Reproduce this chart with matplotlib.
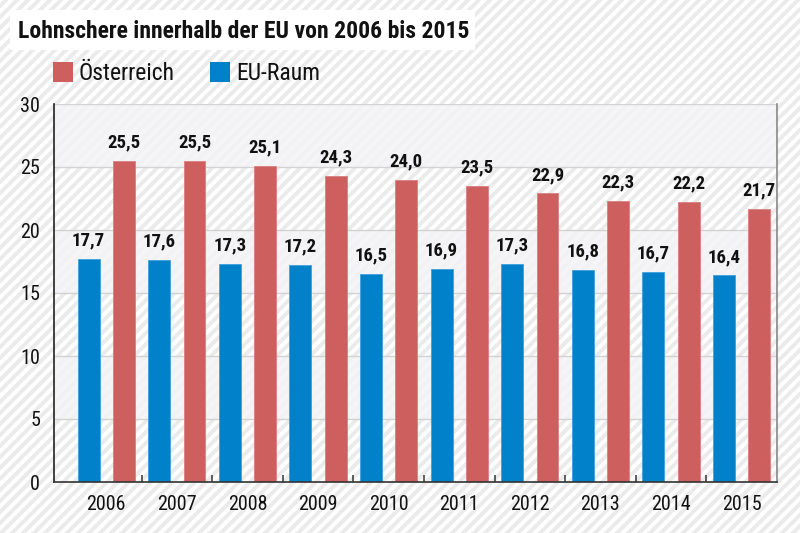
import numpy as np
import matplotlib
matplotlib.use("Agg")
import matplotlib.pyplot as plt
from matplotlib import font_manager
from matplotlib.patches import Rectangle
from matplotlib.lines import Line2D
from matplotlib.transforms import IdentityTransform

years = ["2006", "2007", "2008", "2009", "2010", "2011", "2012", "2013", "2014", "2015"]
oesterreich = [25.5, 25.5, 25.1, 24.3, 24.0, 23.5, 22.9, 22.3, 22.2, 21.7]
eu_raum = [17.7, 17.6, 17.3, 17.2, 16.5, 16.9, 17.3, 16.8, 16.7, 16.4]
yticks = [0, 5, 10, 15, 20, 25, 30]
title = "Lohnschere innerhalb der EU von 2006 bis 2015"
names = ["Österreich", "EU-Raum"]

red = "#cd5f5f"
blue = "#0081c9"

installed = {f.name for f in font_manager.fontManager.ttflist}
font = "Roboto"
for cand in ["Roboto Condensed", "Liberation Sans Narrow", "Roboto"]:
    if cand in installed:
        font = cand
        break
plt.rcParams["font.family"] = [font, "DejaVu Sans"]

fig = plt.figure(figsize=(8, 5.33), dpi=100)
fig.patch.set_facecolor("white")

# diagonal stripes in the background (pixel coords)
for k in range(-560, 820, 11):
    fig.add_artist(Line2D([k, k + 560], [0, 560], transform=IdentityTransform(),
                          color="#ebebeb", lw=2.8, zorder=-10))

# title box
fig.patches.append(Rectangle((10 / 800, 1 - 50 / 533), 465 / 800, 40 / 533,
                             transform=fig.transFigure, facecolor="white",
                             edgecolor="none", zorder=1))
fig.text(18 / 800, 1 - 31 / 533, title, fontsize=17, fontweight="bold",
         va="center", ha="left", color="#111111", zorder=2)

# legend drawn by hand
for i, (name, col) in enumerate(zip(names, [red, blue])):
    x0 = [53, 210][i]
    fig.patches.append(Rectangle((x0 / 800, 1 - 82 / 533), 20 / 800, 20 / 533,
                                 transform=fig.transFigure, facecolor=col,
                                 edgecolor="none"))
    fig.text((x0 + 26) / 800, 1 - 73 / 533, name, fontsize=17,
             va="center", ha="left", color="#111111")

ax = fig.add_axes([54 / 800, 1 - 482 / 533, 723 / 800, 378 / 533])
ax.set_facecolor("none")

# alternating bands
for lo in [5, 15, 25]:
    ax.axhspan(lo, lo + 5, color="#f4f4f6", alpha=0.85, lw=0, zorder=0)
for y in yticks[1:]:
    ax.axhline(y, color="#d2d2d2", lw=1, zorder=0.5)

x = np.arange(len(years))
w = 0.31
b1 = ax.bar(x - 0.25, eu_raum, w, color=blue, edgecolor="#3fa0db", lw=0.6, zorder=2)
b2 = ax.bar(x + 0.25, oesterreich, w, color=red, edgecolor="#d98080", lw=0.6, zorder=2)

for bars, vals in [(b1, eu_raum), (b2, oesterreich)]:
    for r, v in zip(bars, vals):
        ax.text(r.get_x() + r.get_width() / 2, v + 0.75, f"{v:.1f}".replace(".", ","),
                ha="center", va="bottom", fontsize=13.5, fontweight="bold",
                color="#111111")

ax.set_xlim(-0.74, 9.5)
ax.set_ylim(0, 30)
ax.set_yticks(yticks)
ax.set_yticklabels([str(t) for t in yticks], fontsize=14.5, color="#111111")
ax.tick_params(axis="y", length=0, pad=10)
ax.set_xticks(x)
ax.set_xticklabels(years, fontsize=14.5, color="#111111")
ax.tick_params(axis="x", length=0, pad=9)
ax.set_xticks(x[:-1] + 0.5, minor=True)
ax.tick_params(axis="x", which="minor", direction="in", length=5, width=1.2,
               color="#444444")

ax.spines["top"].set_visible(False)
ax.spines["left"].set_color("#222222")
ax.spines["bottom"].set_color("#333333")
ax.spines["right"].set_color("#888888")
for s in ["left", "bottom", "right"]:
    ax.spines[s].set_linewidth(1.2)

fig.savefig("out.png", dpi=100, facecolor=fig.get_facecolor())
